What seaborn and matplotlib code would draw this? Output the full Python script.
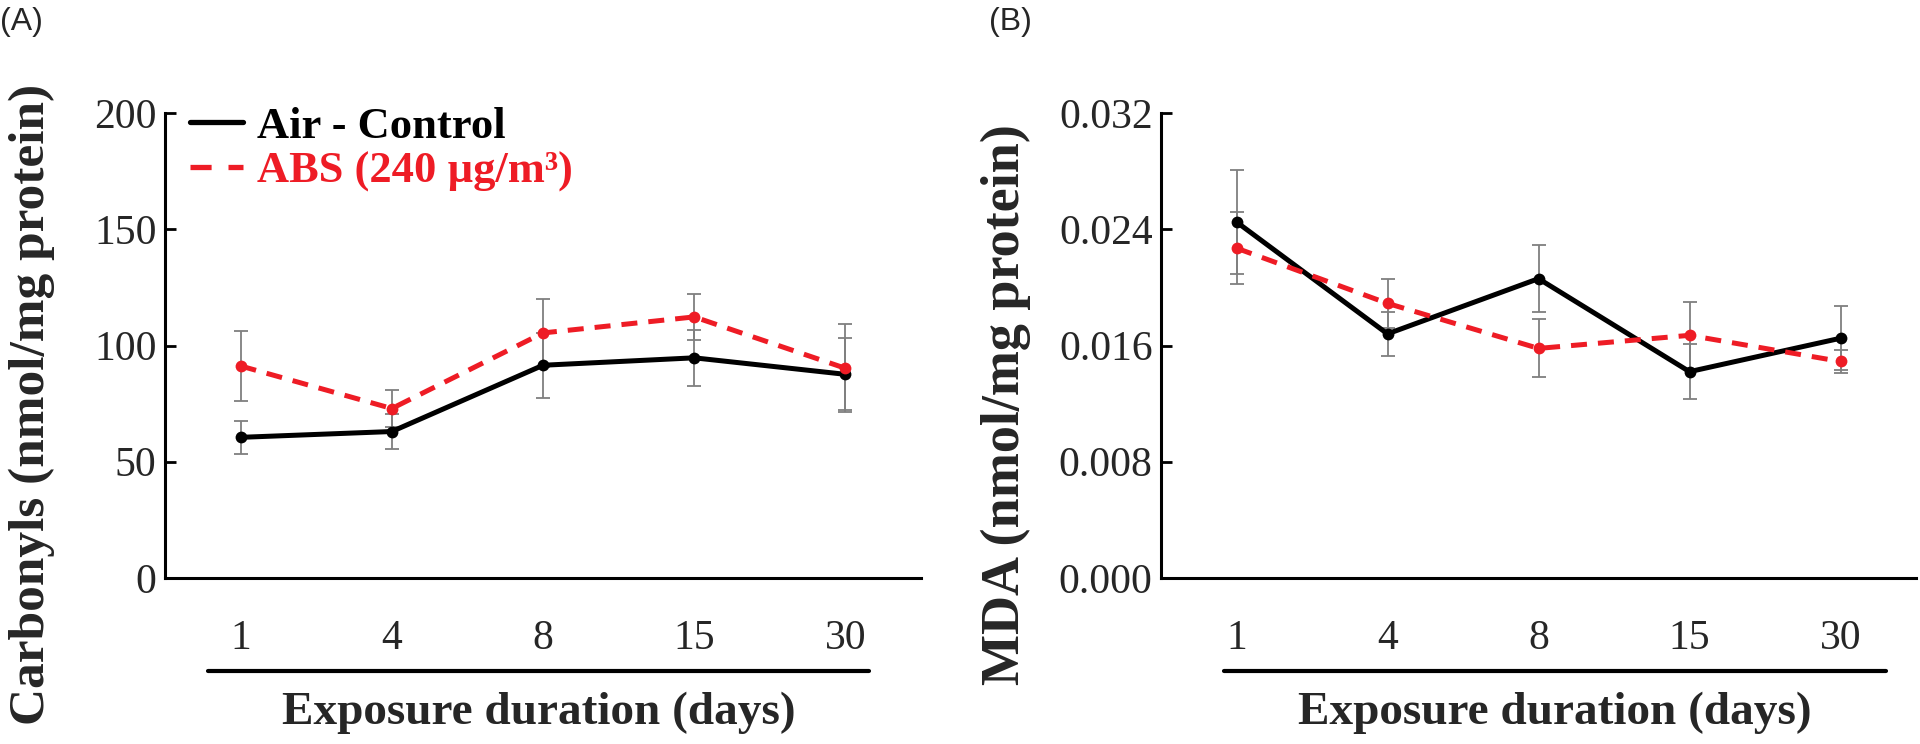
import numpy as np
import pandas as pd
import matplotlib
matplotlib.use("Agg")
import matplotlib.pyplot as plt
from matplotlib.lines import Line2D
import seaborn as sns

# ---- data ----
days = ["1", "4", "8", "15", "30"]

carb_air = [60.5, 63.0, 91.5, 94.7, 87.6]
carb_air_err = [7.0, 7.4, 14.0, 12.0, 15.5]
carb_abs = [91.2, 72.9, 105.4, 112.3, 90.2]
carb_abs_err = [15.0, 8.0, 14.5, 10.0, 19.0]

mda_air = [0.0245, 0.0168, 0.0206, 0.0142, 0.0165]
mda_air_err = [0.0036, 0.0015, 0.0023, 0.0019, 0.0022]
mda_abs = [0.0227, 0.0189, 0.0158, 0.0167, 0.0149]
mda_abs_err = [0.0025, 0.0017, 0.0020, 0.0023, 0.0008]

series_names = ["Air - Control", "ABS (240 µg/m³)"]
series_colors = ["#000000", "#ee1c25"]

sns.set_theme(style="white")
plt.rcParams["font.family"] = ["Liberation Serif", "DejaVu Serif"]

fig = plt.figure(figsize=(19.2, 7.44), dpi=100)
ax_a = fig.add_axes([165 / 1920, 1 - 578 / 744, 756 / 1920, 465 / 744])
ax_b = fig.add_axes([1161 / 1920, 1 - 578 / 744, 755 / 1920, 465 / 744])


def draw_panel(ax, air, air_err, abs_, abs_err, ymax, yticks, ytick_fmt,
               ylabel, ylabel_size, ylabel_x, under, xlab_x):
    pos = np.arange(len(days))
    df = pd.DataFrame({
        "pos": np.concatenate([pos, pos]),
        "value": list(air) + list(abs_),
        "group": [series_names[0]] * len(days) + [series_names[1]] * len(days),
    })
    # gray error bars behind the lines
    for errs, vals in [(air_err, air), (abs_err, abs_)]:
        ax.errorbar(pos, vals, yerr=errs, fmt="none", ecolor="#7f7f7f",
                    elinewidth=1.3, capsize=5, capthick=1.3, zorder=1)
    sns.lineplot(data=df, x="pos", y="value", hue="group", style="group",
                 palette=series_colors, dashes=[(1, 0), (3.2, 2.2)],
                 markers=["o", "o"], markersize=8.5, markeredgewidth=0,
                 linewidth=3.6, ax=ax, zorder=3, legend=False)
    ax.set_xlim(-0.5, len(days) - 0.5)
    ax.set_ylim(0, ymax)
    ax.set_yticks(yticks)
    ax.set_yticklabels([ytick_fmt(t) for t in yticks])
    ax.set_xticks(pos)
    ax.set_xticklabels(days)
    # excel-style tick marks between categories
    ax.set_xticks(list(pos + 0.5), minor=True)
    ax.tick_params(axis="x", which="major", length=0, pad=30, labelsize=30)
    ax.tick_params(axis="x", which="minor", direction="in", length=9, width=2, color="black")
    ax.tick_params(axis="y", direction="in", length=8, width=2, color="black",
                   labelsize=30, pad=6, left=True)
    for s in ["top", "right"]:
        ax.spines[s].set_visible(False)
    for s in ["left", "bottom"]:
        ax.spines[s].set_color("black")
        ax.spines[s].set_linewidth(2.2)
    ax.set_xlabel("")
    ax.set_ylabel(ylabel, fontsize=ylabel_size, fontweight="bold")
    ax.yaxis.set_label_coords(ylabel_x, 0.374)
    ax.plot([under[0], under[1]], [-0.2, -0.2], transform=ax.transAxes,
            color="black", lw=3, clip_on=False)
    ax.text(xlab_x, -0.29, "Exposure duration (days)", transform=ax.transAxes,
            ha="center", va="center", fontsize=34, fontweight="bold")
    ax.grid(False)


draw_panel(ax_a, carb_air, carb_air_err, carb_abs, carb_abs_err, 200,
           [0, 50, 100, 150, 200], lambda t: f"{t:g}",
           "Carbonyls (nmol/mg protein)", 37, -0.145, (0.057, 0.931), 0.495)
draw_panel(ax_b, mda_air, mda_air_err, mda_abs, mda_abs_err, 0.032,
           [0.0, 0.008, 0.016, 0.024, 0.032], lambda t: f"{t:.3f}",
           "MDA (nmol/mg protein)", 39, -0.172, (0.083, 0.960), 0.522)

# legend in panel A, text coloured like its line
handles = [Line2D([], [], color=series_colors[0], lw=3.8),
           Line2D([], [], color=series_colors[1], lw=3.8, dashes=(4.0, 3.2))]
leg = ax_a.legend(handles, series_names, loc="upper left", bbox_to_anchor=(-0.008, 1.08),
                  frameon=False, handlelength=1.2, handletextpad=0.3, labelspacing=0.1,
                  borderaxespad=0.3, prop={"size": 32, "weight": "bold"})
for txt, c in zip(leg.get_texts(), series_colors):
    txt.set_color(c)

fig.text(0.0, 0.97, "(A)", fontsize=23, family=["Liberation Sans", "DejaVu Sans"],
         ha="left", va="center")
fig.text(989 / 1920, 0.97, "(B)", fontsize=23, family=["Liberation Sans", "DejaVu Sans"],
         ha="left", va="center")

fig.savefig("out.png", dpi=100)
